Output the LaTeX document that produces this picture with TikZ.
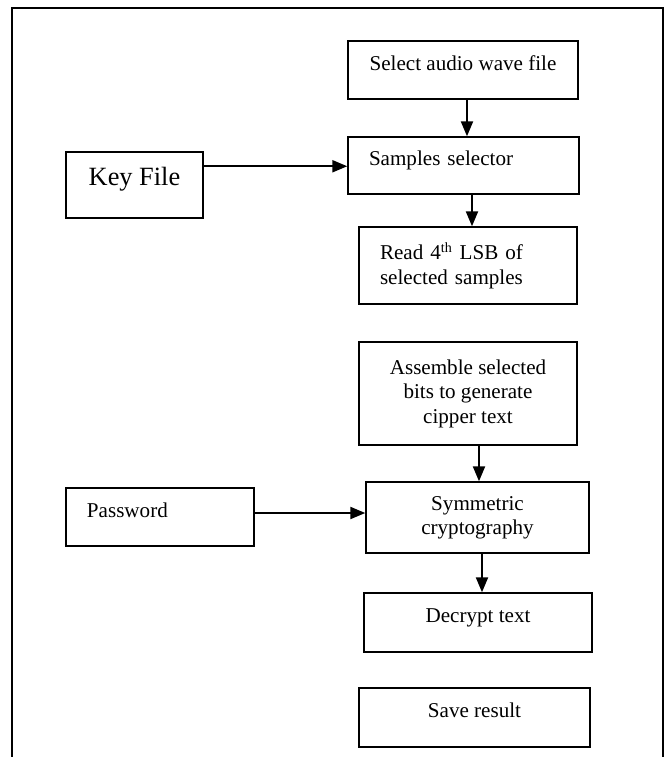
\documentclass[tikz,border=0pt]{standalone}
\usepackage{fontspec}
\setmainfont{Liberation Serif}
\usepackage{tikz}
\newcommand{\lSelect}{Select audio wave file}
\newcommand{\lSamples}{Samples selector}
\newcommand{\lKeyFile}{Key File}
\newcommand{\lRead}{Read 4\textsuperscript{th} LSB of\\selected samples}
\newcommand{\lAssemble}{Assemble selected\\bits to generate\\cipper text}
\newcommand{\lPassword}{Password}
\newcommand{\lSymmetric}{Symmetric\\cryptography}
\newcommand{\lDecrypt}{Decrypt text}
\newcommand{\lSave}{Save result}
\usetikzlibrary{arrows.meta}

\begin{document}
\begin{tikzpicture} [
        font=\fontsize{12}{13.9}\selectfont,
        proc/.style={draw, line width=0.8pt, align=center, inner sep=0pt, minimum height=1.16cm},
        proc left/.style={proc, align=left, text width=#1, inner xsep=.42cm},
        one line/.style={text height=8.5pt, text depth=8pt},
        key box/.style={font=\fontsize{15}{18}\selectfont, text height=10.6pt, text depth=10pt},
        flow/.style={line width=1.2pt, -{Triangle[length=.3cm, width=.24cm]}},
        frame/.style={line width=1pt}
    ]

    \useasboundingbox (0,0) rectangle (13.34,-15.14);
    \draw[frame] (0.24,-15.14) -- (0.24,-0.16) -- (13.26,-0.16) -- (13.26,-15.14);

    \path (9.26,-1.40) node[proc, one line, minimum width=4.6cm] (select) { \lSelect };
    \path (9.27,-3.31) node[proc left=3.78cm, one line, minimum height=1.14cm] (samples) { \lSamples };
    \path (2.69,-3.70) node[proc, key box, minimum width=2.74cm, minimum height=1.32cm] (key file) { \lKeyFile };
    \path (9.36,-5.31) node[proc left=3.52cm, minimum height=1.54cm] (read) { \lRead };
    \path (9.36,-7.87) node[proc, minimum width=4.36cm, minimum height=2.06cm] (assemble) { \lAssemble };
    \path (3.20,-10.34) node[proc left=2.92cm, one line] (password) { \lPassword };
    \path (9.55,-10.35) node[proc, minimum width=4.46cm, minimum height=1.42cm] (symmetric) { \lSymmetric };
    \path (9.56,-12.45) node[proc, one line, minimum width=4.56cm, minimum height=1.18cm] (decrypt) { \lDecrypt };
    \path (9.49,-14.35) node[proc, one line, minimum width=4.62cm, minimum height=1.18cm] (save) { \lSave };

    \draw[flow] ([xshift=.08cm]select.south) -- ([xshift=.08cm]select.south |- samples.north);
    \draw[flow] ([yshift=-.015cm]key file.east |- samples.west) -- ([yshift=-.015cm]samples.west);
    \draw[flow] ([xshift=.17cm]samples.south) -- ([xshift=.17cm]samples.south |- read.north);
    \draw[flow] ([xshift=.22cm]assemble.south) -- ([xshift=.22cm]assemble.south |- symmetric.north);
    \draw[flow] ([yshift=.08cm]password.east) -- ([yshift=.08cm]password.east -| symmetric.west);
    \draw[flow] ([xshift=.09cm]symmetric.south) -- ([xshift=.09cm]symmetric.south |- decrypt.north);

\end{tikzpicture}
\end{document}
